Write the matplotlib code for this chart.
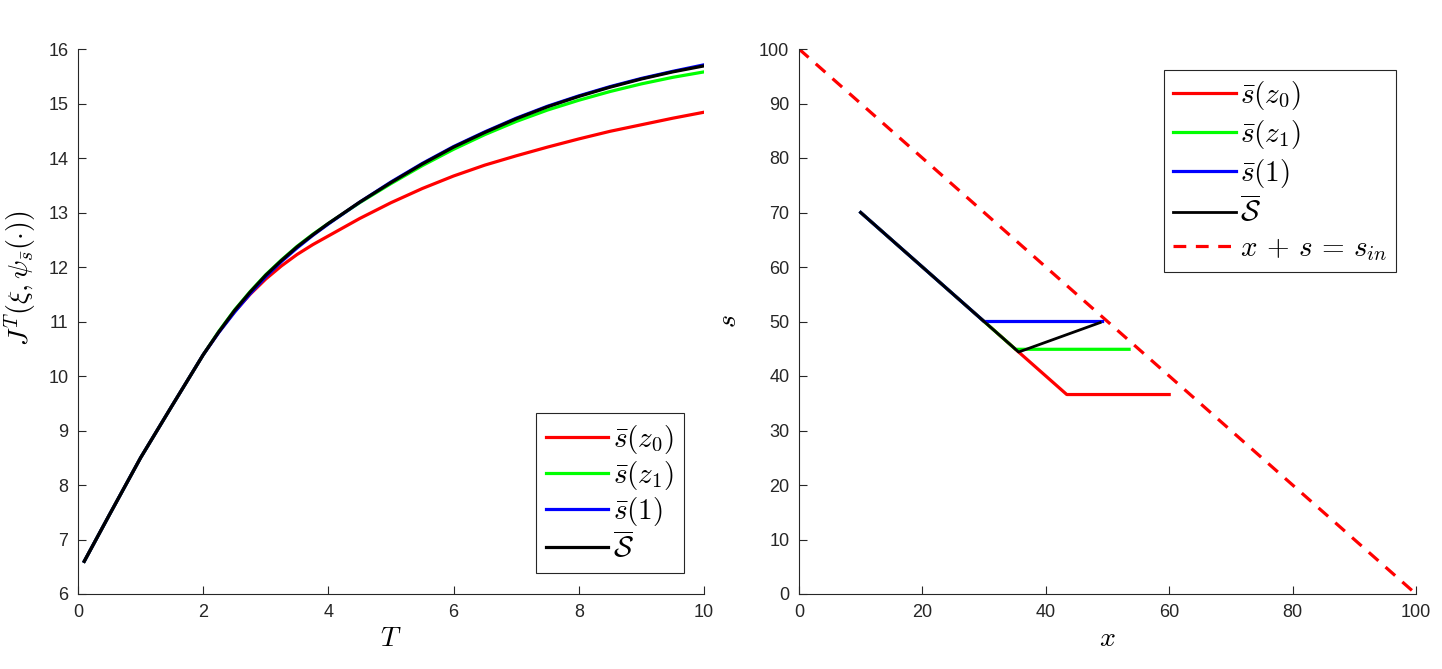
import matplotlib
matplotlib.use("Agg")
import matplotlib.pyplot as plt

plt.rcParams['font.family'] = ['Liberation Sans', 'DejaVu Sans']
plt.rcParams['mathtext.fontset'] = 'cm'

# ---- left panel data ----
T = [0.1, 0.5, 1.0, 1.5, 2.0, 2.25, 2.5, 2.75, 3.0, 3.25, 3.5, 3.75, 4.0, 4.5, 5.0, 5.5, 6.0, 6.5, 7.0, 7.5, 8.0, 8.5, 9.0, 9.5, 10.0]
J_z0 = [6.60, 7.45, 8.50, 9.45, 10.39, 10.81, 11.18, 11.50, 11.78, 12.02, 12.23, 12.41, 12.57, 12.89, 13.18, 13.44, 13.67, 13.87, 14.04, 14.20, 14.35, 14.49, 14.61, 14.73, 14.84]
J_z1 = [6.60, 7.45, 8.50, 9.45, 10.39, 10.82, 11.21, 11.55, 11.86, 12.13, 12.38, 12.60, 12.80, 13.18, 13.53, 13.86, 14.16, 14.43, 14.67, 14.88, 15.06, 15.22, 15.36, 15.48, 15.58]
J_1 = [6.60, 7.45, 8.50, 9.45, 10.39, 10.80, 11.17, 11.51, 11.82, 12.10, 12.35, 12.58, 12.79, 13.19, 13.56, 13.90, 14.21, 14.48, 14.73, 14.95, 15.14, 15.31, 15.46, 15.59, 15.71]
J_S = [6.60, 7.45, 8.50, 9.45, 10.39, 10.81, 11.20, 11.54, 11.85, 12.12, 12.37, 12.59, 12.80, 13.19, 13.55, 13.89, 14.20, 14.47, 14.72, 14.94, 15.13, 15.30, 15.45, 15.58, 15.69]

# ---- right panel data ----
x_z0 = [10, 43.4, 60.0]
s_z0 = [70, 36.6, 36.6]
x_z1 = [10, 35.1, 53.5]
s_z1 = [70, 44.9, 44.9]
x_1 = [10, 30.0, 49.2]
s_1 = [70, 50.0, 50.0]
x_S = [10, 35.6, 48.8]
s_S = [70, 44.4, 49.8]
x_in = [0, 100]
s_in = [100, 0]

labels = [r'$\bar{s}(z_0)$', r'$\bar{s}(z_1)$', r'$\bar{s}(1)$', r'$\overline{\mathcal{S}}$',
          r'$x\,+\,s\,=\,s_{in}$']
colors = ['#ff0000', '#00ff00', '#0000ff', '#000000']

fig = plt.figure(figsize=(14.42, 6.69), dpi=100)
ax1 = fig.add_axes([78/1442, 75/669, 626/1442, 545/669])
ax2 = fig.add_axes([799/1442, 75/669, 617/1442, 545/669])

lw = 2.3
for y, c, l in zip([J_z0, J_z1, J_1, J_S], colors, labels[:4]):
    ax1.plot(T, y, color=c, lw=lw, label=l, solid_joinstyle='round')

ax2.plot(x_in, s_in, color='#ff0000', lw=lw, ls=(0, (4, 3)), label=labels[4], zorder=1)
for (xx, ss), c, l in zip([(x_z0, s_z0), (x_z1, s_z1), (x_1, s_1), (x_S, s_S)], colors, labels[:4]):
    ax2.plot(xx, ss, color=c, lw=lw if c != '#000000' else 2.0, label=l, zorder=2)

ax1.set_xlim(0, 10)
ax1.set_ylim(6, 16)
ax1.set_xticks(range(0, 11, 2))
ax1.set_yticks(range(6, 17))
ax2.set_xlim(0, 100)
ax2.set_ylim(0, 100)
ax2.set_xticks(range(0, 101, 20))
ax2.set_yticks(range(0, 101, 10))

for ax in (ax1, ax2):
    for sp in ('top', 'right'):
        ax.spines[sp].set_visible(False)
    for sp in ('left', 'bottom'):
        ax.spines[sp].set_color('#262626')
        ax.spines[sp].set_linewidth(0.8)
    ax.tick_params(direction='in', length=6, width=0.8, colors='#262626', labelsize=13, pad=7)

ax1.set_xlabel(r'$T$', fontsize=20, labelpad=4)
ax1.set_ylabel(r'$J^T(\xi,\psi_{\bar{s}}(\cdot))$', fontsize=20)
ax1.yaxis.set_label_coords(-0.062, 0.58)
ax2.set_xlabel(r'$x$', fontsize=20, labelpad=4)
ax2.set_ylabel(r'$s$', fontsize=20, labelpad=12)

h1, l1 = ax1.get_legend_handles_labels()
leg1 = ax1.legend(h1, l1, loc='lower right', bbox_to_anchor=(0.968, 0.038), fontsize=21,
                  frameon=True, fancybox=False, edgecolor='#262626', framealpha=1,
                  handlelength=2.15, handletextpad=0.15, borderpad=0.35, labelspacing=0.11,
                  borderaxespad=0)
leg1.get_frame().set_linewidth(0.8)

h2, l2 = ax2.get_legend_handles_labels()
order = [1, 2, 3, 4, 0]
leg2 = ax2.legend([h2[i] for i in order], [l2[i] for i in order], loc='upper right',
                  bbox_to_anchor=(0.968, 0.961), fontsize=21,
                  frameon=True, fancybox=False, edgecolor='#262626', framealpha=1,
                  handlelength=2.15, handletextpad=0.15, borderpad=0.3, labelspacing=0.21,
                  borderaxespad=0)
leg2.get_frame().set_linewidth(0.8)

fig.savefig('out.png', dpi=100)
